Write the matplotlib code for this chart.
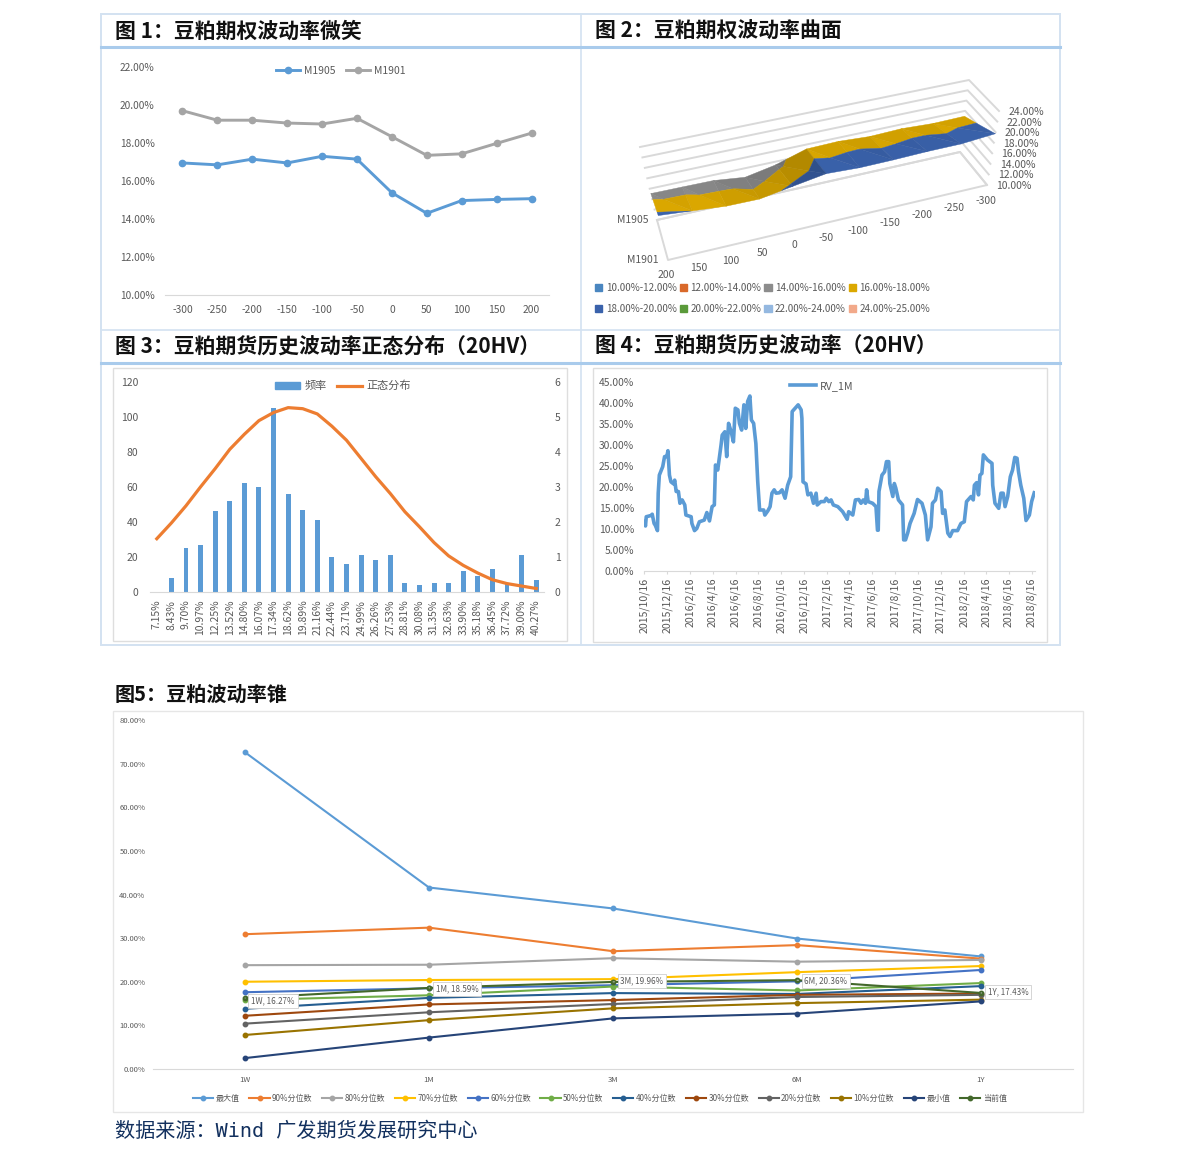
#!/usr/bin/env python3
from datetime import datetime, timedelta
import matplotlib
matplotlib.use("Agg")
import matplotlib.pyplot as plt
from matplotlib.collections import PolyCollection
from matplotlib.colors import to_rgb
from matplotlib.lines import Line2D
from matplotlib.patches import Patch

plt.rcParams["font.family"] = ["Noto Sans CJK SC", "DejaVu Sans"]
plt.rcParams["axes.unicode_minus"] = False

W, H = 1191, 1162
TEXT = "#595959"
AXIS = "#d9d9d9"
BLUE = "#5b9bd5"
GREY = "#a5a5a5"
ORANGE = "#ed7d31"

# Figure 1 / 2 data
strikes = ["-300", "-250", "-200", "-150", "-100", "-50", "0", "50", "100", "150", "200"]
m1905 = [16.95, 16.85, 17.15, 16.95, 17.30, 17.15, 15.38, 14.30, 14.97, 15.03, 15.07]
m1901 = [19.70, 19.20, 19.20, 19.05, 19.00, 19.30, 18.33, 17.35, 17.43, 17.98, 18.52]
smile_ticks = [10, 12, 14, 16, 18, 20, 22]
surface_levels = [10, 12, 14, 16, 18, 20, 22, 24]
band_edges = [10, 12, 14, 16, 18, 20, 22, 24, 25]
band_labels = ["10.00%-12.00%", "12.00%-14.00%", "14.00%-16.00%", "16.00%-18.00%",
               "18.00%-20.00%", "20.00%-22.00%", "22.00%-24.00%", "24.00%-25.00%"]
band_colors = ["#4a86c0", "#d9692a", "#8c8c8c", "#dba800",
               "#3a62ab", "#5a9a3a", "#94b8e0", "#f2a98a"]

# Figure 3 data
hv_bins = ["7.15%", "8.43%", "9.70%", "10.97%", "12.25%", "13.52%", "14.80%", "16.07%", "17.34%",
           "18.62%", "19.89%", "21.16%", "22.44%", "23.71%", "24.99%", "26.26%", "27.53%", "28.81%",
           "30.08%", "31.35%", "32.63%", "33.90%", "35.18%", "36.45%", "37.72%", "39.00%", "40.27%"]
hv_freq = [0, 8, 25, 27, 46, 52, 62, 60, 105, 56, 47, 41, 20, 16, 21, 18, 21, 5, 4, 5, 5, 12, 9, 13, 5, 21, 7]
hv_normal = [1.52, 1.97, 2.46, 3.00, 3.52, 4.07, 4.50, 4.89, 5.12, 5.26, 5.23, 5.08, 4.73, 4.33,
             3.81, 3.29, 2.81, 2.29, 1.86, 1.41, 1.03, 0.76, 0.54, 0.35, 0.24, 0.17, 0.10]

# Figure 4 data: days after 2015/10/16 and the reading on that day
rv_days = [0, 3, 5, 18, 21, 26, 29, 35, 37, 40, 49, 54, 60, 63, 67, 71, 78, 81, 85, 91, 95, 101, 108, 111,
           125, 127, 134, 140, 147, 160, 167, 174, 181, 187, 190, 196, 205, 208, 215, 220, 225, 232, 238,
           243, 250, 254, 260, 266, 271, 276, 282, 286, 292, 298, 303, 308, 319, 322, 330, 336, 341, 347,
           352, 361, 368, 376, 383, 391, 395, 403, 411, 419, 421, 424, 432, 437, 445, 452, 459, 462, 472,
           481, 486, 493, 499, 505, 517, 530, 542, 546, 557, 564, 573, 579, 585, 591, 594, 598, 610, 619,
           623, 625, 627, 635, 642, 647, 653, 656, 664, 668, 672, 679, 690, 693, 698, 704, 710, 721, 730,
           742, 751, 757, 766, 770, 778, 784, 793, 797, 803, 811, 817, 824, 837, 846, 855, 861, 873, 879,
           882, 888, 893, 897, 902, 906, 917, 929, 931, 937, 947, 953, 959, 964, 971, 978, 984, 990, 996,
           1000, 1006, 1014, 1020, 1029, 1035, 1042]
rv_values = [11.7, 10.7, 12.9, 13.2, 13.5, 11.3, 10.9, 9.6, 18.5, 22.8, 24.8, 27.2, 27.2, 28.6, 22.8, 21.2,
             20.7, 21.6, 18.9, 18.9, 16.1, 16.9, 15.7, 13.3, 12.9, 11.3, 9.6, 10.1, 11.7, 12.1, 13.9, 11.9,
             15.3, 15.7, 25.2, 24.0, 30.0, 32.3, 33.1, 27.2, 35.1, 33.1, 30.7, 38.7, 38.3, 35.1, 33.5, 39.5,
             33.9, 40.3, 41.6, 35.9, 35.1, 30.3, 21.2, 14.5, 14.5, 13.3, 14.3, 15.3, 18.5, 19.3, 18.5, 18.6,
             19.3, 17.3, 20.4, 22.4, 37.9, 38.7, 39.5, 38.3, 36.3, 21.2, 20.7, 18.1, 18.5, 16.1, 18.5, 15.7,
             16.5, 16.5, 17.3, 16.5, 16.9, 15.7, 15.3, 14.1, 12.3, 14.1, 13.3, 16.9, 17.0, 16.1, 16.9, 16.1,
             19.3, 16.5, 16.1, 15.3, 9.7, 9.7, 18.9, 22.8, 23.6, 26.0, 26.0, 20.8, 17.7, 20.8, 19.7, 16.9,
             15.7, 7.4, 7.4, 9.1, 11.3, 13.7, 17.0, 16.1, 13.3, 7.4, 10.5, 16.1, 16.9, 19.7, 18.9, 13.7, 14.5,
             9.0, 8.2, 9.6, 9.6, 11.3, 11.7, 16.5, 17.7, 16.9, 20.4, 21.0, 18.1, 22.8, 23.2, 27.6, 26.4, 25.6,
             20.4, 16.1, 14.9, 18.5, 18.5, 15.3, 17.7, 22.4, 24.0, 27.0, 26.8, 23.6, 20.4, 17.3, 12.0, 13.3,
             16.5, 18.6]
rv_ticks = ["2015/10/16", "2015/12/16", "2016/2/16", "2016/4/16", "2016/6/16", "2016/8/16", "2016/10/16",
            "2016/12/16", "2017/2/16", "2017/4/16", "2017/6/16", "2017/8/16", "2017/10/16", "2017/12/16",
            "2018/2/16", "2018/4/16", "2018/6/16", "2018/8/16"]

# Figure 5 data
tenors = ["1W", "1M", "3M", "6M", "1Y"]
cone_names = ["最大值", "90%分位数", "80%分位数", "70%分位数", "60%分位数", "50%分位数",
              "40%分位数", "30%分位数", "20%分位数", "10%分位数", "最小值", "当前值"]
cone_colors = ["#5b9bd5", "#ed7d31", "#a5a5a5", "#ffc000", "#4472c4", "#70ad47",
               "#255e91", "#9e480e", "#636363", "#997300", "#264478", "#43682b"]
cone_max = [72.6, 41.6, 36.8, 29.9, 25.8]
cone_p90 = [30.9, 32.4, 27.0, 28.4, 25.3]
cone_p80 = [23.8, 23.9, 25.4, 24.6, 25.0]
cone_p70 = [20.0, 20.4, 20.6, 22.2, 23.6]
cone_p60 = [17.6, 18.5, 19.2, 20.1, 22.7]
cone_p50 = [15.8, 16.9, 18.9, 18.0, 19.7]
cone_p40 = [13.8, 16.3, 17.4, 17.2, 19.0]
cone_p30 = [12.2, 14.8, 15.8, 17.0, 17.3]
cone_p20 = [10.4, 13.0, 14.9, 16.5, 17.0]
cone_p10 = [7.8, 11.2, 13.9, 15.1, 15.9]
cone_min = [2.5, 7.2, 11.6, 12.7, 15.5]
cone_now = [16.27, 18.59, 19.96, 20.36, 17.43]
cone_ticks = [0, 10, 20, 30, 40, 50, 60, 70, 80]

fig = plt.figure(figsize=(W / 100, H / 100), dpi=100, facecolor="white")


def px_axes(left, top, right, bottom):
    ax = fig.add_axes([left / W, 1 - bottom / H, (right - left) / W, (bottom - top) / H])
    ax.patch.set_visible(False)
    for side in ["top", "left", "right"]:
        ax.spines[side].set_visible(False)
    ax.spines["bottom"].set_color(AXIS)
    ax.tick_params(length=0, colors=TEXT)
    return ax


# whole page in pixels, used for frames, headings and the 3D panel
canvas = fig.add_axes([0, 0, 1, 1])
canvas.set_xlim(0, W)
canvas.set_ylim(H, 0)
canvas.axis("off")

FRAME = "#d3e2f1"
HEAD = "#a9cbec"
canvas.add_patch(plt.Rectangle((101, 14), 959, 631, fill=False, ec=FRAME, lw=1.4))
canvas.plot([581, 581], [14, 645], color=FRAME, lw=1.2)
canvas.plot([101, 1060], [330, 330], color=FRAME, lw=1.2)
canvas.plot([101, 1060], [47, 47], color=HEAD, lw=2.2)
canvas.plot([101, 1060], [362.5, 362.5], color=HEAD, lw=2.2)
canvas.add_patch(plt.Rectangle((113, 368), 454, 273, fill=False, ec="#dedede", lw=1))
canvas.add_patch(plt.Rectangle((593, 368), 454, 274, fill=False, ec="#dedede", lw=1))
canvas.add_patch(plt.Rectangle((113, 711), 970, 401, fill=False, ec="#e6e6e6", lw=1))

for x, y, title in [(115, 31, "图 1：豆粕期权波动率微笑"), (595, 31, "图 2：豆粕期权波动率曲面"),
                    (115, 346, "图 3：豆粕期货历史波动率正态分布（20HV）"), (595, 346, "图 4：豆粕期货历史波动率（20HV）")]:
    canvas.text(x, y, title, fontsize=15, fontweight="bold", color="#111111", va="center")
canvas.text(115, 694, "图5：豆粕波动率锥", fontsize=14.5, fontweight="bold", color="#111111", va="center")
canvas.text(115, 1131, "数据来源：Wind 广发期货发展研究中心", fontsize=14.5, color="#12305e", va="center",
            family=["DejaVu Sans Mono", "Noto Sans CJK SC"])

# Figure 1
ax1 = px_axes(165, 67, 549, 295)
x_pos = list(range(len(strikes)))
ax1.plot(x_pos, m1905, "o-", color=BLUE, lw=2.1, ms=4.5, label="M1905")
ax1.plot(x_pos, m1901, "o-", color=GREY, lw=2.1, ms=4.5, label="M1901")
ax1.set_xlim(-0.5, 10.5)
ax1.set_ylim(10, 22)
ax1.set_xticks(x_pos)
ax1.set_xticklabels(strikes, fontsize=7.4)
ax1.set_yticks(smile_ticks)
ax1.set_yticklabels([f"{v:.2f}%" for v in smile_ticks], fontsize=7.3)
ax1.tick_params(axis="x", pad=7)
ax1.tick_params(axis="y", pad=7.5)
ax1.legend(loc="center", bbox_to_anchor=(341, 71), bbox_transform=canvas.transData, ncols=2, frameon=False,
           fontsize=7.5, labelcolor=TEXT, handlelength=2.3, handletextpad=0.4, columnspacing=1.0, borderpad=0)

# Figure 2: corner points of the chart box on the page, [u end][v end] at low and high z
corners_low = {(0, 0): (987, 185), (1, 0): (668, 260), (0, 1): (960, 152), (1, 1): (657, 220)}
corners_high = {(0, 0): (999, 111), (1, 0): (652, 187), (0, 1): (969, 80), (1, 1): (640, 147)}


def project(u, v, z):
    # u runs along the strikes, v from M1901 (front) to M1905 (back)
    fu, fz = u / 10, (z - 10) / 14
    out = []
    for i in range(2):
        val = 0
        for a, wa in ((0, 1 - fu), (1, fu)):
            for b, wb in ((0, 1 - v), (1, v)):
                val += wa * wb * (corners_low[(a, b)][i] * (1 - fz) + corners_high[(a, b)][i] * fz)
        out.append(val)
    return out


def clip(poly, level, keep_above):
    res = []
    for i, p in enumerate(poly):
        q = poly[(i + 1) % len(poly)]
        p_in = p[2] >= level if keep_above else p[2] <= level
        q_in = q[2] >= level if keep_above else q[2] <= level
        if p_in:
            res.append(p)
        if p_in != q_in:
            t = (level - p[2]) / (q[2] - p[2])
            res.append((p[0] + t * (q[0] - p[0]), p[1] + t * (q[1] - p[1]), level))
    return res


for z in surface_levels:
    path = [project(10, 1, z), project(0, 1, z), project(0, 0, z)]
    canvas.plot([p[0] for p in path], [p[1] for p in path], color="#d9d9d9", lw=1.4, zorder=1)
floor = [project(10, 1, 10), project(10, 0, 10), project(0, 0, 10), project(0, 1, 10), project(10, 1, 10)]
canvas.plot([p[0] for p in floor], [p[1] for p in floor], color="#d9d9d9", lw=1.4, zorder=1)

polys, facecolors = [], []
for i in range(len(strikes) - 1):
    a = (i, 0, m1901[i])
    b = (i + 1, 0, m1901[i + 1])
    c = (i + 1, 1, m1905[i + 1])
    d = (i, 1, m1905[i])
    shade = 1 - min(0.16, 0.09 * abs(m1905[i + 1] - m1905[i]))
    for tri, f in (((a, b, c), shade), ((a, c, d), shade * 0.97)):
        for k, col in enumerate(band_colors):
            piece = clip(clip(list(tri), band_edges[k], True), band_edges[k + 1], False)
            if len(piece) >= 3:
                polys.append([project(*p) for p in piece])
                facecolors.append(tuple(c_ * f for c_ in to_rgb(col)))
canvas.add_collection(PolyCollection(polys, facecolors=facecolors, edgecolors=facecolors, linewidths=0.3, zorder=2))

for z in surface_levels:
    px, py = project(0, 0, z)
    canvas.text(px + 27, py + 1, f"{z:.2f}%", fontsize=7.5, color=TEXT, ha="center", va="center")
for i, label in enumerate(strikes):
    px, py = project(i, 0, 10)
    canvas.text(px - 1.5, py + 15.5, label, fontsize=7.5, color=TEXT, ha="center", va="center")
px, py = project(10, 1, 10)
canvas.text(px - 24, py, "M1905", fontsize=7.5, color=TEXT, ha="center", va="center")
px, py = project(10, 0, 10)
canvas.text(px - 25, py, "M1901", fontsize=7.5, color=TEXT, ha="center", va="center")
order = [0, 4, 1, 5, 2, 6, 3, 7]
canvas.legend([Patch(color=band_colors[k]) for k in order], [band_labels[k] for k in order],
              loc="center left", bbox_to_anchor=(595, 298.5), bbox_transform=canvas.transData, ncols=4, frameon=False,
              fontsize=7.05, labelcolor=TEXT, handlelength=0.75, handleheight=0.75, handletextpad=0.35,
              columnspacing=0.3, labelspacing=1.1, borderpad=0, borderaxespad=0)

# Figure 3
ax3 = px_axes(149.5, 381.7, 543.5, 592)
x_pos = list(range(len(hv_bins)))
ax3.bar(x_pos, hv_freq, width=0.34, color=BLUE, label="频率")
ax3.set_xlim(-0.5, 26.5)
ax3.set_ylim(0, 120)
ax3.set_xticks(x_pos)
ax3.set_xticklabels(hv_bins, rotation=90, fontsize=7.5)
ax3.set_yticks(range(0, 121, 20))
ax3.tick_params(axis="y", labelsize=7.5, pad=8)
ax3.tick_params(axis="x", pad=5.5)
ax3b = ax3.twinx()
ax3b.patch.set_visible(False)
for side in ax3b.spines:
    ax3b.spines[side].set_visible(False)
ax3b.plot(x_pos, hv_normal, color=ORANGE, lw=2.3, label="正态分布")
ax3b.set_ylim(0, 6)
ax3b.set_yticks(range(0, 7))
ax3b.tick_params(length=0, colors=TEXT, labelsize=7.5, pad=8)
ax3b.legend([Patch(color=BLUE), Line2D([], [], color=ORANGE, lw=2.3)], ["频率", "正态分布"], loc="center",
            bbox_to_anchor=(343, 386), bbox_transform=canvas.transData, ncols=2, frameon=False, fontsize=8,
            labelcolor=TEXT, handlelength=2.2, handleheight=0.5, handletextpad=0.4, columnspacing=1.0, borderpad=0)

# Figure 4
start = datetime(2015, 10, 16)
ax4 = px_axes(644, 381.7, 1035, 571)
rv_dates = [start + timedelta(days=d) for d in rv_days]
ax4.plot(rv_dates, rv_values, color=BLUE, lw=2.6, label="RV_1M")
ax4.set_xlim(start - timedelta(days=1), start + timedelta(days=1044))
ax4.set_ylim(0, 45)
ax4.set_xticks([datetime.strptime(t, "%Y/%m/%d") for t in rv_ticks])
ax4.set_xticklabels(rv_ticks, rotation=90, fontsize=7.6)
ax4.set_yticks(range(0, 46, 5))
ax4.set_yticklabels([f"{v:.2f}%" for v in range(0, 46, 5)], fontsize=7.4)
ax4.tick_params(axis="x", length=2.5, color=AXIS, pad=2.5)
ax4.tick_params(axis="y", pad=7)
ax4.legend(loc="center", bbox_to_anchor=(822, 386), bbox_transform=canvas.transData, frameon=False, fontsize=7.7,
           labelcolor=TEXT, handlelength=2.4, handletextpad=0.4, borderpad=0)

# Figure 5
ax5 = px_axes(153, 720, 1073, 1069)
x_pos = list(range(len(tenors)))
cone_series = [cone_max, cone_p90, cone_p80, cone_p70, cone_p60, cone_p50,
               cone_p40, cone_p30, cone_p20, cone_p10, cone_min, cone_now]
for name, vals, col in zip(cone_names, cone_series, cone_colors):
    ax5.plot(x_pos, vals, "o-", color=col, lw=1.5, ms=3.2, label=name)
ax5.set_xlim(-0.5, 4.5)
ax5.set_ylim(0, 80)
ax5.set_xticks(x_pos)
ax5.set_xticklabels(tenors, fontsize=5.6)
ax5.set_yticks(cone_ticks)
ax5.set_yticklabels([f"{v:.2f}%" for v in cone_ticks], fontsize=5.5)
ax5.tick_params(axis="x", pad=5)
ax5.tick_params(axis="y", pad=5.5)
label_offsets = [(28, -3), (28, -1), (29, 1), (29, -1), (27, 1)]
for i, off in enumerate(label_offsets):
    ax5.annotate(f"{tenors[i]}, {cone_now[i]:.2f}%", (i, cone_now[i]), xytext=off, textcoords="offset pixels",
                 fontsize=5.8, color=TEXT, ha="center", va="center", zorder=6,
                 bbox=dict(boxstyle="square,pad=0.35", fc="white", ec="#cfcfcf", lw=0.6),
                 arrowprops=dict(arrowstyle="-", color="#cfcfcf", lw=0.6))
ax5.legend(loc="center", bbox_to_anchor=(600, 1098), bbox_transform=canvas.transData, ncols=12, frameon=False,
           fontsize=5.8, labelcolor=TEXT, handlelength=2.5, handletextpad=0.3, columnspacing=1.2, borderpad=0)

fig.savefig("out.png", dpi=100)
plt.close(fig)
